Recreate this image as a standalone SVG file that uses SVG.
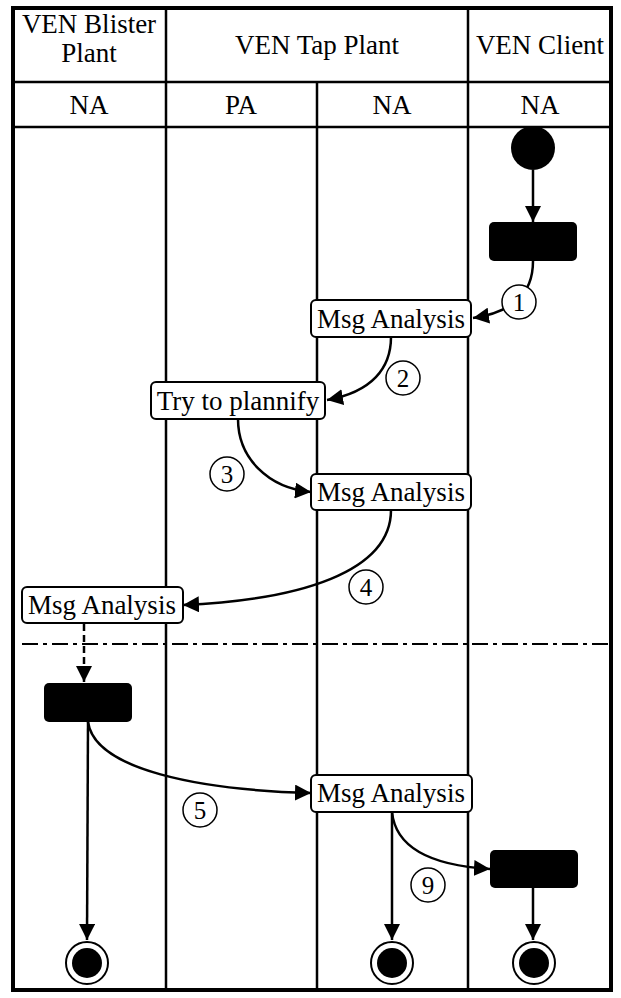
<svg xmlns="http://www.w3.org/2000/svg" width="621" height="998" viewBox="0 0 621 998">
<defs>
<marker id="arr" markerUnits="userSpaceOnUse" markerWidth="18" markerHeight="16" refX="16" refY="8" orient="auto">
<path d="M0,0 L16,8 L0,16 z" fill="#000"/>
</marker>
<style>
.t{font-family:"Liberation Serif","Times New Roman",serif;font-size:27px;fill:#000;text-anchor:middle}
.n{font-family:"Liberation Serif","Times New Roman",serif;font-size:25px;fill:#000;text-anchor:middle}
.ln{stroke:#000;stroke-width:2.5;fill:none}
.c{stroke:#000;stroke-width:2.5;fill:none;marker-end:url(#arr)}
.box{fill:#fff;stroke:#000;stroke-width:2}
.blk{fill:#000}
.lab{fill:#fff;stroke:#000;stroke-width:1.5}
</style>
</defs>
<rect width="621" height="998" fill="#fff"/>
<g id="lanes">
<line class="ln" x1="12" y1="82" x2="612" y2="82"/>
<line class="ln" x1="12" y1="127" x2="612" y2="127"/>
<line class="ln" x1="166" y1="8" x2="166" y2="990"/>
<line class="ln" x1="317" y1="82" x2="317" y2="990"/>
<line class="ln" x1="468" y1="8" x2="468" y2="990"/>
<rect x="13" y="8" width="598" height="982" fill="none" stroke="#000" stroke-width="4"/>
<text class="t" x="89" y="33">VEN Blister</text>
<text class="t" x="89" y="62">Plant</text>
<text class="t" x="317" y="54">VEN Tap Plant</text>
<text class="t" x="540" y="54">VEN Client</text>
<text class="t" x="89" y="114">NA</text>
<text class="t" x="241" y="114">PA</text>
<text class="t" x="392" y="114">NA</text>
<text class="t" x="540" y="114">NA</text>
<line x1="22" y1="644" x2="610" y2="644" stroke="#000" stroke-width="2" stroke-dasharray="16 5 4 5"/>
</g>
<g id="connectors">
<path class="c" d="M533,170 L533,222"/>
<path class="c" d="M533,261 C533,295 512,312 473,318"/>
<path class="c" d="M391,337 C391,368 372,392 327,400"/>
<path class="c" d="M238,419 C238,458 268,488 311,492"/>
<path class="c" d="M391,510 C391,572 300,600 183,605"/>
<path class="c" d="M84,624 L84,682" stroke-dasharray="7 4"/>
<path class="c" d="M88,722 C95,770 200,790 311,793"/>
<path class="c" d="M88,722 L87,940"/>
<path class="c" d="M392,812 L392,940"/>
<path class="c" d="M392,812 C396,852 440,866 490,869"/>
<path class="c" d="M533,888 L533,940"/>
<g id="lab1"><circle class="lab" cx="519" cy="302" r="17"/><text class="n" x="519" y="311">1</text></g>
<g id="lab2"><circle class="lab" cx="403" cy="378" r="17"/><text class="n" x="403" y="387">2</text></g>
<g id="lab3"><circle class="lab" cx="227" cy="474" r="17"/><text class="n" x="227" y="483">3</text></g>
<g id="lab4"><circle class="lab" cx="366" cy="587" r="17"/><text class="n" x="366" y="596">4</text></g>
<g id="lab5"><circle class="lab" cx="200" cy="810" r="17"/><text class="n" x="200" y="819">5</text></g>
<g id="lab9"><circle class="lab" cx="428" cy="885" r="17"/><text class="n" x="428" y="894">9</text></g>
</g>
<g id="start"><circle class="blk" cx="533" cy="148" r="22"/></g>
<g id="fork1"><rect class="blk" x="489" y="222" width="88" height="39" rx="5"/></g>
<g id="msg1"><rect class="box" x="311" y="300" width="160" height="37" rx="5"/><text class="t" x="391" y="328">Msg Analysis</text></g>
<g id="plannify"><rect class="box" x="151" y="382" width="174" height="37" rx="5"/><text class="t" x="238" y="410">Try to plannify</text></g>
<g id="msg2"><rect class="box" x="311" y="474" width="160" height="36" rx="5"/><text class="t" x="391" y="501">Msg Analysis</text></g>
<g id="msg3"><rect class="box" x="22" y="587" width="161" height="36" rx="5"/><text class="t" x="102" y="614">Msg Analysis</text></g>
<g id="fork2"><rect class="blk" x="44" y="683" width="88" height="39" rx="5"/></g>
<g id="msg4"><rect class="box" x="311" y="775" width="161" height="37" rx="5"/><text class="t" x="391" y="802">Msg Analysis</text></g>
<g id="fork3"><rect class="blk" x="490" y="850" width="88" height="38" rx="5"/></g>
<g id="end1"><circle cx="87" cy="963" r="21" fill="#fff" stroke="#000" stroke-width="2"/><circle class="blk" cx="87" cy="963" r="15"/></g>
<g id="end2"><circle cx="392" cy="963" r="21" fill="#fff" stroke="#000" stroke-width="2"/><circle class="blk" cx="392" cy="963" r="15"/></g>
<g id="end3"><circle cx="534" cy="963" r="21" fill="#fff" stroke="#000" stroke-width="2"/><circle class="blk" cx="534" cy="963" r="15"/></g>
</svg>
